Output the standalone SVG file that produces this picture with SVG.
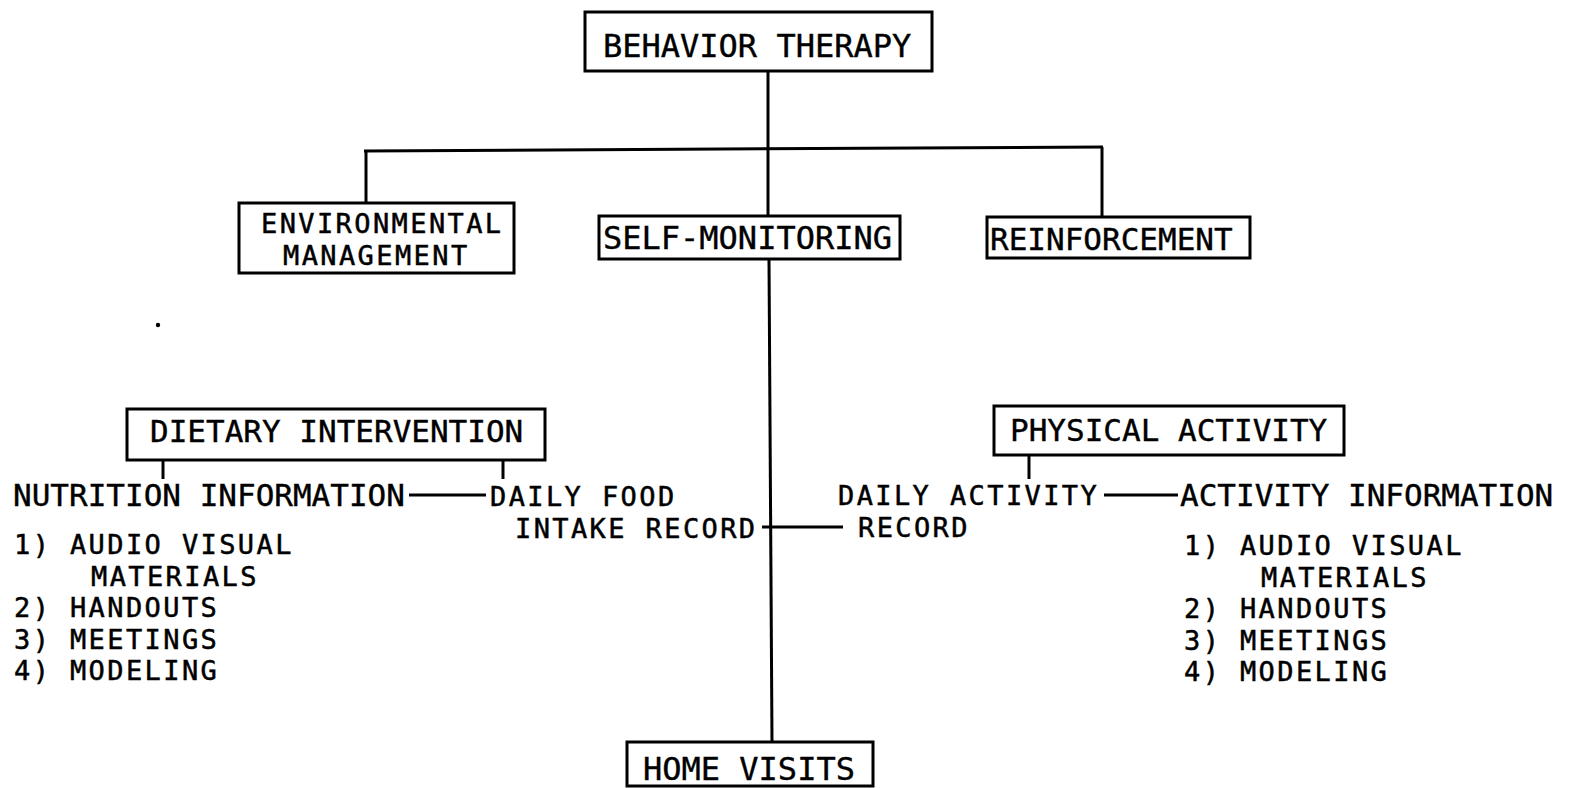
<svg xmlns="http://www.w3.org/2000/svg" width="1570" height="788" viewBox="0 0 1570 788">
<style>
  text { font-family: "DejaVu Sans Mono", "Liberation Mono", monospace; font-size: 31px; fill: #000; stroke: #000; stroke-width: 0.4; }
  .big { font-size: 32px; }
  .ml { font-size: 27px; letter-spacing: 2.4px; stroke-width: 0.5; }
  .box { fill: #fff; stroke: #000; stroke-width: 3; }
  .ln { fill: none; stroke: #000; stroke-width: 3; }
</style>
<rect width="1570" height="788" fill="#fff"/>
<g id="connectors">
  <line class="ln" x1="768" y1="71" x2="768" y2="216"/>
  <line class="ln" x1="364" y1="151" x2="1103" y2="147"/>
  <line class="ln" x1="366" y1="151" x2="366" y2="203"/>
  <line class="ln" x1="1102" y1="147" x2="1102" y2="217"/>
  <line class="ln" x1="769" y1="260" x2="772" y2="742"/>
  <line class="ln" x1="163" y1="460" x2="163" y2="479"/>
  <line class="ln" x1="503" y1="460" x2="503" y2="479"/>
  <line class="ln" x1="1029" y1="455" x2="1029" y2="479"/>
  <line class="ln" x1="409" y1="495" x2="486" y2="495"/>
  <line class="ln" x1="762" y1="527" x2="843" y2="527"/>
  <line class="ln" x1="1104" y1="495" x2="1178" y2="495"/>
</g>
<g id="behavior-therapy">
  <rect class="box" x="585" y="12" width="347" height="59"/>
  <text class="big" x="603" y="57">BEHAVIOR THERAPY</text>
</g>
<g id="environmental-management">
  <rect class="box" x="239" y="203" width="275" height="70"/>
  <text class="ml" x="261" y="233">ENVIRONMENTAL<tspan x="283" dy="31.5">MANAGEMENT</tspan></text>
</g>
<g id="self-monitoring">
  <rect class="box" x="599" y="216" width="301" height="43"/>
  <text class="big" x="603" y="249">SELF-MONITORING</text>
</g>
<g id="reinforcement">
  <rect class="box" x="987" y="217" width="263" height="41"/>
  <text x="990" y="250">REINFORCEMENT</text>
</g>
<g id="dietary-intervention">
  <rect class="box" x="127" y="409" width="418" height="51"/>
  <text x="150" y="442">DIETARY INTERVENTION</text>
</g>
<g id="physical-activity">
  <rect class="box" x="994" y="406" width="350" height="49"/>
  <text x="1010" y="441">PHYSICAL ACTIVITY</text>
</g>
<g id="nutrition-information">
  <text x="13" y="506">NUTRITION INFORMATION</text>
  <text class="ml" x="14" y="554">1) AUDIO VISUAL<tspan x="91" dy="31.5">MATERIALS</tspan><tspan x="14" dy="31.5">2) HANDOUTS</tspan><tspan x="14" dy="31.5">3) MEETINGS</tspan><tspan x="14" dy="31.5">4) MODELING</tspan></text>
</g>
<g id="daily-food-intake-record">
  <text class="ml" x="490" y="506">DAILY FOOD<tspan x="515" dy="31.5">INTAKE RECORD</tspan></text>
</g>
<g id="daily-activity-record">
  <text class="ml" x="838" y="505">DAILY ACTIVITY<tspan x="858" dy="32">RECORD</tspan></text>
</g>
<g id="activity-information">
  <text x="1180" y="506">ACTIVITY INFORMATION</text>
  <text class="ml" x="1184" y="555">1) AUDIO VISUAL<tspan x="1261" dy="31.5">MATERIALS</tspan><tspan x="1184" dy="31.5">2) HANDOUTS</tspan><tspan x="1184" dy="31.5">3) MEETINGS</tspan><tspan x="1184" dy="31.5">4) MODELING</tspan></text>
</g>
<g id="home-visits">
  <rect class="box" x="627" y="742" width="246" height="44"/>
  <text class="big" x="643" y="780">HOME VISITS</text>
</g>
<circle cx="158" cy="325" r="2.2" fill="#000"/>
</svg>
